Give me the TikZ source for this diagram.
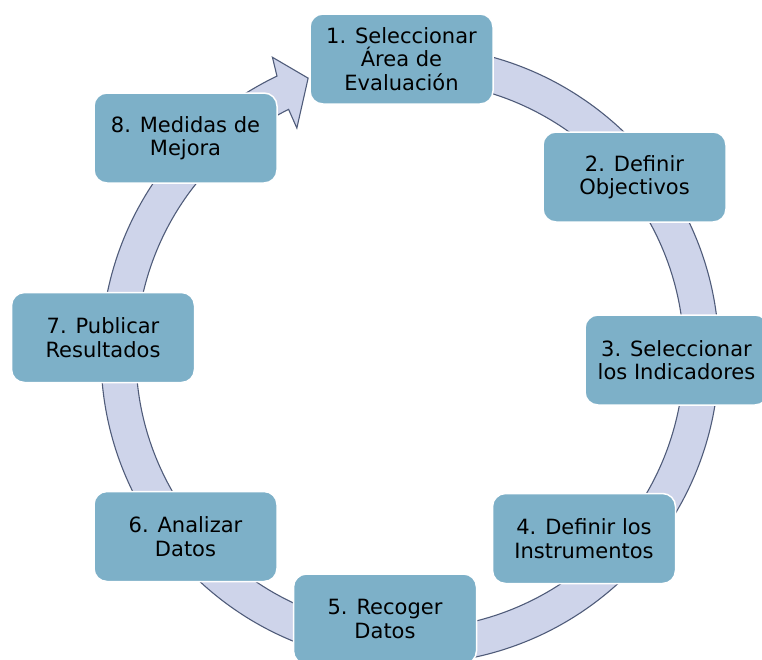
\documentclass[tikz,border=0pt]{standalone}
\usepackage{fontspec}
\setmainfont{DejaVu Sans}
\definecolor{boxfill}{RGB}{125,176,200}
\definecolor{ringfill}{RGB}{206,212,234}
\definecolor{ringline}{RGB}{80,92,122}
\tikzset{
  stepbox/.style={rectangle, rounded corners=13pt, minimum width=183pt, minimum height=90pt,
    inner sep=0pt, fill=boxfill, draw=white, line width=1.5pt, align=center,
    font=\fontsize{21}{23.5}\selectfont, text=black},
  ring/.style={fill=ringfill, draw=ringline, line width=1.1pt, line join=miter}
}
\begin{document}
\begin{tikzpicture}[x=1pt,y=1pt]
\useasboundingbox (0,0) rectangle (762,-659);
\clip (0,0) rectangle (762,-659);
% circular arrow
\begin{scope}[shift={(410,-355)}]
\coordinate (tail) at (90:309);
\filldraw[ring] (tail) arc[start angle=90, end angle=-244.5, radius=309]
  -- (114.8:328) -- (110.2:295) -- (116.5:253.6) -- (116.3:274)
  arc[start angle=-243.7, end angle=90, radius=274] -- cycle;
\end{scope}
% nodes
\node[stepbox] (n1) at (401.5,-59) {1. Seleccionar\\Área de\\Evaluación};
\node[stepbox] (n2) at (634.5,-177) {2. Definir\\Objectivos};
\node[stepbox] (n3) at (676.5,-360) {3. Seleccionar\\los Indicadores};
\node[stepbox] (n4) at (584,-538.5) {4. Definir los\\Instrumentos};
\node[stepbox] (n5) at (385,-619) {5. Recoger\\Datos};
\node[stepbox] (n6) at (185.5,-536.5) {6. Analizar\\Datos};
\node[stepbox] (n7) at (103,-337.5) {7. Publicar\\Resultados};
\node[stepbox] (n8) at (185.5,-138) {8. Medidas de\\Mejora};
\end{tikzpicture}
\end{document}
